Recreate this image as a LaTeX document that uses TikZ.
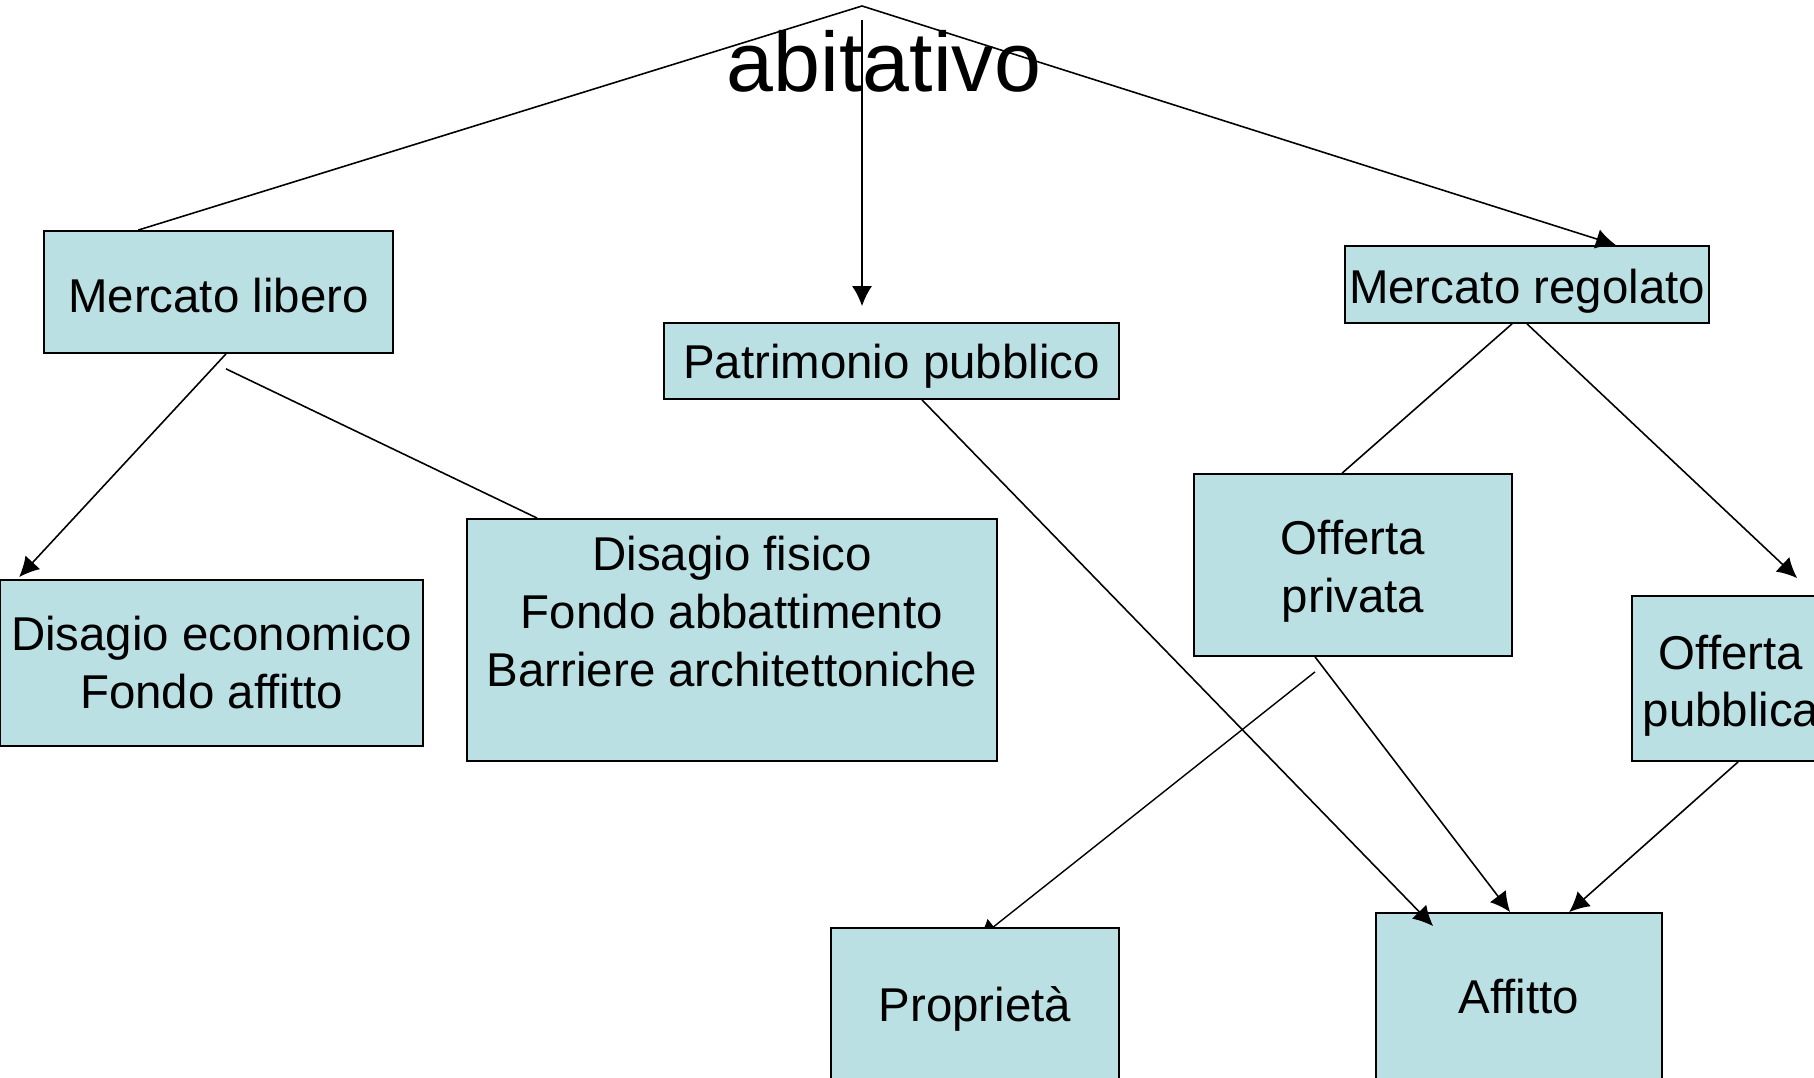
\documentclass[tikz,border=0pt]{standalone}
\usepackage{fontspec}
\setmainfont{Liberation Sans}
\usepackage{tikz}
\usetikzlibrary{calc}
\usetikzlibrary{arrows.meta}
\usetikzlibrary{backgrounds}
\tikzset{>={Latex[length=2mm,width=2mm]}}
\definecolor{boxfill}{RGB}{187,224,227}
\tikzset{box/.style={draw,fill=boxfill,line width=0.5pt,inner sep=0pt,align=center,font=\fontsize{13.5}{16.5}\selectfont}}

\begin{document}
\begin{tikzpicture}[line width=0.45pt]
			\useasboundingbox (0,0) rectangle (18.14,-10.78);
			\node[anchor=base,font=\fontsize{24}{28}\selectfont] (title) at (8.84,-0.92) {abitativo};
			\coordinate (top) at (8.62,-0.06);
			\node[box,minimum width=3.49cm,minimum height=1.22cm,text height=11.9pt] (lib) at (2.185,-2.92) {Mercato libero};
			\node[box,minimum width=4.55cm,minimum height=0.76cm,text height=12.5pt] (pat) at (8.915,-3.61) {Patrimonio pubblico};
			\node[box,minimum width=3.64cm,minimum height=0.77cm,text height=13.9pt] (reg) at (15.27,-2.845) {Mercato regolato};
			\node[box,minimum width=4.23cm,minimum height=1.66cm] (eco) at (2.115,-6.63) {Disagio economico\\Fondo affitto};
			\node[box,minimum width=5.30cm,minimum height=2.42cm] (fis) at (7.32,-6.40) {Disagio fisico\\Fondo abbattimento\\Barriere architettoniche\\\mbox{}};
			\node[box,minimum width=3.18cm,minimum height=1.82cm,text height=29.7pt] (pri) at (13.53,-5.65) {Offerta\\privata};
			\node[box,minimum width=1.98cm,minimum height=1.65cm,text height=30.4pt] (pub) at (17.31,-6.785) {Offerta\\pubblica};
			\node[box,minimum width=2.88cm,minimum height=1.52cm,text height=12.5pt] (pro) at (9.75,-10.04) {Propriet\`a};
			\node[box,minimum width=2.86cm,minimum height=1.68cm] (aff) at (15.19,-9.97) {Affitto};
			
			\draw (top)--([xshift=0.95cm]lib.north west);
			\draw[->] ([yshift=-1.4mm]top)--([yshift=1.6mm]top |- pat.north);
			\draw[->] (top)--([xshift=0.89cm]reg.north);
			\draw[->] ([xshift=0.75mm]lib.south)--([xshift=2mm,yshift=0.2mm]eco.north west);
			\draw ([xshift=0.75mm,yshift=-1.5mm]lib.south)--([xshift=0.71cm]fis.north west);
			\draw[->] ([xshift=0.305cm]pat.south)--([xshift=0.58cm,yshift=-1.4mm]aff.north west);
			\draw ([xshift=-1.5mm]reg.south)--([xshift=1.49cm]pri.north west);
			\draw[->] (reg.south)--([xshift=1.66cm,yshift=1.7mm]pub.north west);
			\begin{scope}[on background layer]
				\draw[->] ([xshift=-0.38cm,yshift=-1.5mm]pri.south)--([xshift=0.3mm,yshift=-1.2mm]pro.north);
			\end{scope}
			\draw[->] ([xshift=-0.38cm]pri.south)--([xshift=1.35cm]aff.north west);
			\draw[->] ([xshift=1.07cm]pub.south west)--([xshift=1.94cm]aff.north west);
		\end{tikzpicture}
\end{document}
